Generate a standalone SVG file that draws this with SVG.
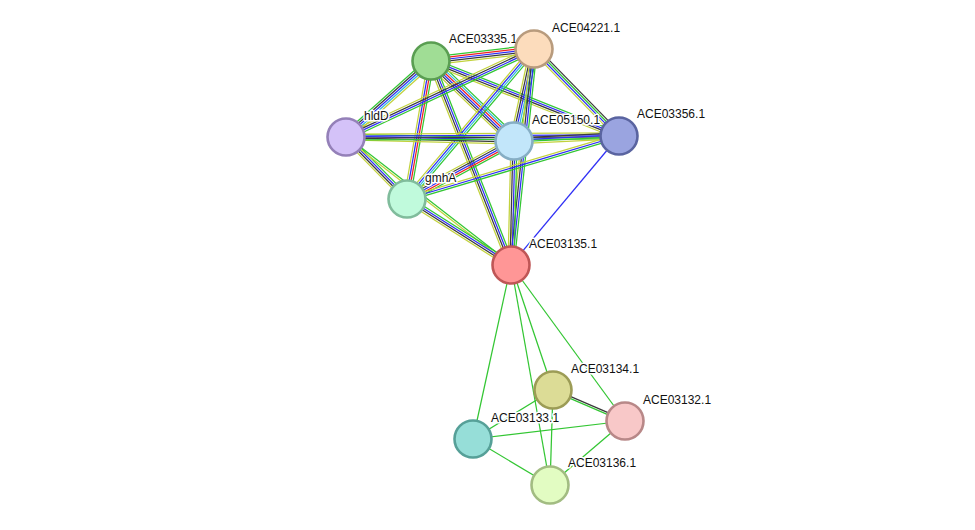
<svg xmlns="http://www.w3.org/2000/svg" width="975" height="530" viewBox="0 0 975 530">
<style>
line{stroke-width:1.25;fill:none}
.g{stroke:#33c633}.r{stroke:#f02020}.b{stroke:#2e2ef5}.k{stroke:#3a3a3a}.y{stroke:#c2d23c}.c{stroke:#33b8e0}
.n{stroke-width:2.6}
text{font-family:"Liberation Sans",Arial,sans-serif;font-size:12px;fill:#111;paint-order:stroke;stroke:#fff;stroke-width:3px;stroke-linejoin:round}
</style>
<rect width="975" height="530" fill="#fff"/>
<g id="edges">
<g transform="translate(431 61) rotate(-6.65)"><line x2="103.7" y1="-4" y2="-4" class="g"/><line x2="103.7" y1="-2" y2="-2" class="r"/><line x2="103.7" class="b"/><line x2="103.7" y1="2" y2="2" class="k"/><line x2="103.7" y1="4" y2="4" class="y"/></g>
<g transform="translate(431 61) rotate(138.2)"><line x2="114" y1="-4" y2="-4" class="y"/><line x2="114" y1="-2" y2="-2" class="c"/><line x2="114" class="b"/><line x2="114" y1="2" y2="2" class="k"/><line x2="114" y1="4" y2="4" class="g"/></g>
<g transform="translate(431 61) rotate(43.94)"><line x2="115.3" y1="-5" y2="-5" class="g"/><line x2="115.3" y1="-3" y2="-3" class="c"/><line x2="115.3" y1="-1" y2="-1" class="r"/><line x2="115.3" y1="1" y2="1" class="b"/><line x2="115.3" y1="3" y2="3" class="k"/><line x2="115.3" y1="5" y2="5" class="y"/></g>
<g transform="translate(431 61) rotate(21.75)"><line x2="202.4" y1="-3" y2="-3" class="g"/><line x2="202.4" y1="-1" y2="-1" class="b"/><line x2="202.4" y1="1" y2="1" class="k"/><line x2="202.4" y1="3" y2="3" class="y"/></g>
<g transform="translate(431 61) rotate(99.87)"><line x2="140.1" y1="-3" y2="-3" class="g"/><line x2="140.1" y1="-1" y2="-1" class="r"/><line x2="140.1" y1="1" y2="1" class="b"/><line x2="140.1" y1="3" y2="3" class="y"/></g>
<g transform="translate(431 61) rotate(68.59)"><line x2="219.1" y1="-3" y2="-3" class="g"/><line x2="219.1" y1="-1" y2="-1" class="b"/><line x2="219.1" y1="1" y2="1" class="k"/><line x2="219.1" y1="3" y2="3" class="y"/></g>
<g transform="translate(534 49) rotate(154.92)"><line x2="207.6" y1="-3" y2="-3" class="g"/><line x2="207.6" y1="-1" y2="-1" class="b"/><line x2="207.6" y1="1" y2="1" class="k"/><line x2="207.6" y1="3" y2="3" class="y"/></g>
<g transform="translate(534 49) rotate(102.26)"><line x2="94.1" y1="-4" y2="-4" class="g"/><line x2="94.1" y1="-2" y2="-2" class="c"/><line x2="94.1" class="b"/><line x2="94.1" y1="2" y2="2" class="k"/><line x2="94.1" y1="4" y2="4" class="y"/></g>
<g transform="translate(534 49) rotate(45.67)"><line x2="121.6" y1="-3" y2="-3" class="k"/><line x2="121.6" y1="-1" y2="-1" class="g"/><line x2="121.6" y1="1" y2="1" class="b"/><line x2="121.6" y1="3" y2="3" class="y"/></g>
<g transform="translate(534 49) rotate(130.25)"><line x2="196.5" y1="-3" y2="-3" class="g"/><line x2="196.5" y1="-1" y2="-1" class="c"/><line x2="196.5" y1="1" y2="1" class="b"/><line x2="196.5" y1="3" y2="3" class="y"/></g>
<g transform="translate(534 49) rotate(96.08)"><line x2="217.2" y1="-3" y2="-3" class="g"/><line x2="217.2" y1="-1" y2="-1" class="b"/><line x2="217.2" y1="1" y2="1" class="k"/><line x2="217.2" y1="3" y2="3" class="y"/></g>
<g transform="translate(346 137) rotate(1.36)"><line x2="168" y1="-3" y2="-3" class="g"/><line x2="168" y1="-1" y2="-1" class="b"/><line x2="168" y1="1" y2="1" class="k"/><line x2="168" y1="3" y2="3" class="y"/></g>
<g transform="translate(346 137) rotate(-0.21)"><line x2="273" y1="-3" y2="-3" class="y"/><line x2="273" y1="-1" y2="-1" class="b"/><line x2="273" y1="1" y2="1" class="k"/><line x2="273" y1="3" y2="3" class="g"/></g>
<g transform="translate(346 137) rotate(45.47)"><line x2="87" y1="-3" y2="-3" class="g"/><line x2="87" y1="-1" y2="-1" class="b"/><line x2="87" y1="1" y2="1" class="k"/><line x2="87" y1="3" y2="3" class="y"/></g>
<g transform="translate(346 137) rotate(37.8)"><line x2="208.8" y1="-1" y2="-1" class="g"/><line x2="208.8" y1="1" y2="1" class="y"/></g>
<g transform="translate(514 141) rotate(-2.73)"><line x2="105.1" y1="-3" y2="-3" class="k"/><line x2="105.1" y1="-1" y2="-1" class="b"/><line x2="105.1" y1="1" y2="1" class="g"/><line x2="105.1" y1="3" y2="3" class="y"/></g>
<g transform="translate(514 141) rotate(151.54)"><line x2="121.7" y1="-4" y2="-4" class="g"/><line x2="121.7" y1="-2" y2="-2" class="r"/><line x2="121.7" class="b"/><line x2="121.7" y1="2" y2="2" class="k"/><line x2="121.7" y1="4" y2="4" class="y"/></g>
<g transform="translate(514 141) rotate(91.39)"><line x2="124" y1="-3" y2="-3" class="g"/><line x2="124" y1="-1" y2="-1" class="b"/><line x2="124" y1="1" y2="1" class="k"/><line x2="124" y1="3" y2="3" class="y"/></g>
<g transform="translate(619 136) rotate(163.45)"><line x2="221.2" y1="-2" y2="-2" class="g"/><line x2="221.2" class="b"/><line x2="221.2" y1="2" y2="2" class="y"/></g>
<g transform="translate(407 199) rotate(32.4)"><line x2="123.2" y1="-3" y2="-3" class="g"/><line x2="123.2" y1="-1" y2="-1" class="b"/><line x2="123.2" y1="1" y2="1" class="k"/><line x2="123.2" y1="3" y2="3" class="y"/></g>
<line x1="619" y1="136" x2="511" y2="265" class="b"/>
<line x1="511" y1="265" x2="553" y2="390" class="g"/>
<line x1="511" y1="265" x2="625" y2="421" class="g"/>
<line x1="511" y1="265" x2="473" y2="439" class="g"/>
<line x1="511" y1="265" x2="550" y2="485" class="g"/>
<g transform="translate(553 390) rotate(23.29)"><line x2="78.4" y1="-1" y2="-1" class="k"/><line x2="78.4" y1="1" y2="1" class="g"/></g>
<line x1="553" y1="390" x2="473" y2="439" class="g"/>
<line x1="553" y1="390" x2="550" y2="485" class="g"/>
<line x1="625" y1="421" x2="473" y2="439" class="g"/>
<line x1="625" y1="421" x2="550" y2="485" class="g"/>
<line x1="473" y1="439" x2="550" y2="485" class="g"/>
</g>
<g id="ACE03335.1"><circle cx="431" cy="61" r="18.5" fill="#a0dd95" stroke="#5a9e52" class="n"/><text x="449" y="43">ACE03335.1</text></g>
<g id="ACE04221.1"><circle cx="534" cy="49" r="18.5" fill="#fcdcbc" stroke="#b89b7d" class="n"/><text x="552" y="32">ACE04221.1</text></g>
<g id="hldD"><circle cx="346" cy="137" r="18.5" fill="#d4c2f8" stroke="#9480b8" class="n"/><text x="364" y="120">hldD</text></g>
<g id="ACE05150.1"><circle cx="514" cy="141" r="18.5" fill="#c2e6fa" stroke="#86aec4" class="n"/><text x="532" y="124">ACE05150.1</text></g>
<g id="ACE03356.1"><circle cx="619" cy="136" r="18.5" fill="#9aa4e0" stroke="#5a64a0" class="n"/><text x="637" y="118">ACE03356.1</text></g>
<g id="gmhA"><circle cx="407" cy="199" r="18.5" fill="#c0fadc" stroke="#80bc9c" class="n"/><text x="425" y="182">gmhA</text></g>
<g id="ACE03135.1"><circle cx="511" cy="265" r="18.5" fill="#ff9696" stroke="#bf5656" class="n"/><text x="529" y="248">ACE03135.1</text></g>
<g id="ACE03134.1"><circle cx="553" cy="390" r="18.5" fill="#dcdc96" stroke="#9c9c56" class="n"/><text x="571" y="373">ACE03134.1</text></g>
<g id="ACE03132.1"><circle cx="625" cy="421" r="18.5" fill="#f8c8c8" stroke="#b88888" class="n"/><text x="643" y="404">ACE03132.1</text></g>
<g id="ACE03133.1"><circle cx="473" cy="439" r="18.5" fill="#96ded8" stroke="#56a098" class="n"/><text x="491" y="422">ACE03133.1</text></g>
<g id="ACE03136.1"><circle cx="550" cy="485" r="18.5" fill="#e2fcc2" stroke="#a2bc82" class="n"/><text x="568" y="467">ACE03136.1</text></g>
</svg>
